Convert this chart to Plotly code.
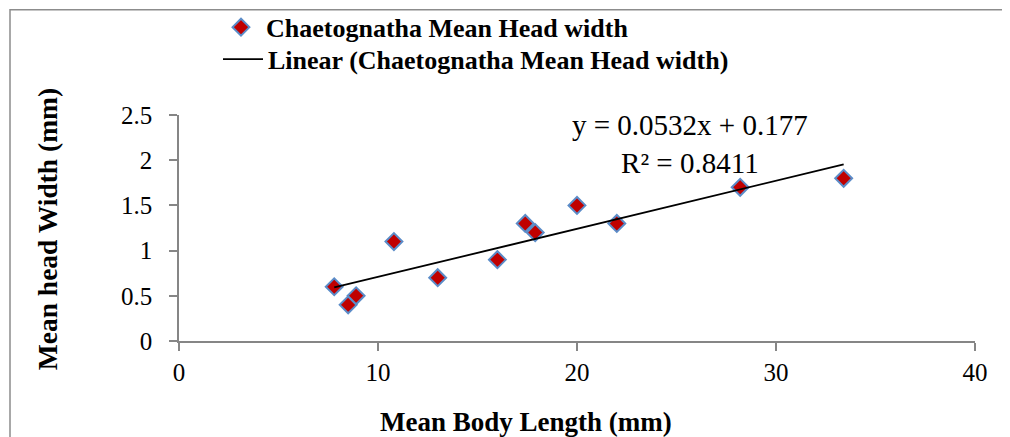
import plotly.graph_objects as go

# ---- data ----
body_length = [7.8, 8.5, 8.9, 10.8, 13.0, 16.0, 17.4, 17.9, 20.0, 22.0, 28.2, 33.4]
head_width = [0.6, 0.4, 0.5, 1.1, 0.7, 0.9, 1.3, 1.2, 1.5, 1.3, 1.7, 1.8]
trend_slope = 0.0532
trend_intercept = 0.177
r_squared = 0.8411
series_name = "Chaetognatha Mean Head width"
trend_name = "Linear (Chaetognatha Mean Head width)"
x_title = "Mean Body Length (mm)"
y_title = "Mean head Width (mm)"
x_ticks = [0, 10, 20, 30, 40]
y_ticks = [0, 0.5, 1, 1.5, 2, 2.5]

# ---- layout geometry ----
# the page body has an 8px margin, so the figure starts at (8, 8) of the window
OFF = 8
WIN_W, WIN_H = 1010, 437
W, H = WIN_W - OFF, WIN_H - OFF
PLOT_L, PLOT_R, PLOT_T, PLOT_B = 179, 975, 114.5, 341   # window pixels
ML, MR = PLOT_L - OFF, WIN_W - PLOT_R
MT, MB = PLOT_T - OFF, WIN_H - PLOT_B
PW, PH = PLOT_R - PLOT_L, PLOT_B - PLOT_T


def px(xw):
    """window x pixel -> paper x"""
    return (xw - PLOT_L) / PW


def py(yw):
    """window y pixel -> paper y"""
    return (PLOT_B - yw) / PH


FONT = "Liberation Serif, Times New Roman, serif"
AXIS_GRAY = "#868686"

trend_x = [min(body_length), max(body_length)]
trend_y = [trend_slope * v + trend_intercept for v in trend_x]

fig = go.Figure()
fig.add_trace(go.Scatter(
    x=body_length, y=head_width, mode="markers", name=series_name,
    legend="legend",
    marker=dict(symbol="diamond", size=13, color="#C00000",
                line=dict(color="#5B8CC8", width=2)),
))
fig.add_trace(go.Scatter(
    x=trend_x, y=trend_y, mode="lines", name=trend_name,
    legend="legend2",
    line=dict(color="black", width=1.8),
))

axis_common = dict(
    showgrid=False, zeroline=False, showline=True, linecolor=AXIS_GRAY,
    linewidth=1.5, ticks="outside", ticklen=8, tickwidth=1.5,
    tickcolor=AXIS_GRAY, tickfont=dict(family=FONT, size=25, color="black"),
    automargin=False,
)

legend_common = dict(
    xanchor="left", yanchor="top",
    font=dict(family=FONT, size=26, color="black", weight="bold"),
    bgcolor="rgba(0,0,0,0)", borderwidth=0, itemwidth=40,
)

fig.update_layout(
    width=W, height=H,
    margin=dict(l=ML, r=MR, t=MT, b=MB, pad=0, autoexpand=False),
    paper_bgcolor="white", plot_bgcolor="white",
    font=dict(family=FONT, color="black"),
    xaxis=dict(range=[0, 40], tickvals=x_ticks, **axis_common),
    yaxis=dict(range=[0, 2.5], tickvals=y_ticks, ticklabelstandoff=12,
               **axis_common),
    showlegend=True,
    legend=dict(x=px(216), y=py(3), **legend_common),
    legend2=dict(x=px(218), y=py(35), **legend_common),
    annotations=[
        dict(text=f"y = {trend_slope}x + {trend_intercept}<br>R² = {r_squared}",
             xref="paper", yref="paper", x=px(690), y=py(144),
             xanchor="center", yanchor="middle", showarrow=False, align="center",
             font=dict(family=FONT, size=29, color="black")),
        dict(text=f"<b>{x_title}</b>", xref="paper", yref="paper",
             x=px(526), y=py(422), xanchor="center", yanchor="middle",
             showarrow=False, font=dict(family=FONT, size=27, color="black")),
        dict(text=f"<b>{y_title}</b>", xref="paper", yref="paper",
             x=px(47), y=py(229), xanchor="center", yanchor="middle",
             textangle=-90, showarrow=False,
             font=dict(family=FONT, size=27.5, color="black")),
    ],
    shapes=[
        dict(type="rect", xref="paper", yref="paper",
             x0=px(10), x1=px(1040), y0=py(470), y1=py(9),
             line=dict(color="#8C8C8C", width=1.5), fillcolor="rgba(0,0,0,0)",
             layer="below"),
    ],
)

fig.write_html("out.html")
